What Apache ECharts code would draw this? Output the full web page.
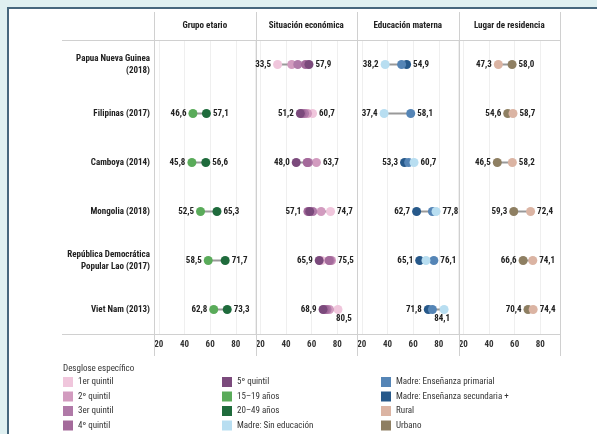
<!DOCTYPE html>
<html><head><meta charset="utf-8">
<script src="https://cdn.jsdelivr.net/npm/echarts@6/dist/echarts.min.js"></script>
<style>html,body{margin:0;padding:0;background:#dff0f1;}#c{width:597px;height:434px;}</style>
</head><body><div id="c"></div><script>
const countries = ['Papua Nueva Guinea\n(2018)','Filipinas (2017)','Camboya (2014)','Mongolia (2018)','República Democrática\nPopular Lao (2017)','Viet Nam (2013)'];
const panelTitles = ['Grupo etario','Situación económica','Educación materna','Lugar de residencia'];
const tickValues = [20,40,60,80];
// Grupo etario
const age1519 = [null,46.6,45.8,52.5,58.5,62.8];
const age2049 = [null,57.1,56.6,65.3,71.7,73.3];
// Situación económica
const q1 = [33.5,60.7,57.0,74.7,67.8,80.5];
const q2 = [44.5,56.8,63.7,67.4,75.5,73.9];
const q3 = [49.2,54.5,57.5,60.9,74.5,72.0];
const q4 = [55.2,52.5,56.5,57.1,73.5,70.5];
const q5 = [57.9,51.2,48.0,58.5,65.9,68.9];
// Educación materna
const eduNone = [38.2,37.4,60.7,77.8,70.0,84.1];
const eduPrim = [51.0,58.1,56.5,75.0,76.1,75.0];
const eduSec  = [54.9,null,53.3,62.7,65.1,71.8];
// Lugar de residencia
const rural = [47.3,58.7,58.2,72.4,74.1,74.4];
const urban = [58.0,54.6,46.5,59.3,66.6,70.4];

const FONT = "'Roboto Condensed','Open Sans Condensed',sans-serif";
const panels = [
  [{name:'15–19 años',data:age1519,color:'#5aab5a'},{name:'20–49 años',data:age2049,color:'#1f6b3c'}],
  [{name:'1er quintil',data:q1,color:'#f0c6dc'},{name:'2º quintil',data:q2,color:'#d29bbf'},{name:'3er quintil',data:q3,color:'#b07aa8'},{name:'4º quintil',data:q4,color:'#a46a9b'},{name:'5º quintil',data:q5,color:'#7b4a7c'}],
  [{name:'Madre: Enseñanza secundaria +',data:eduSec,color:'#27598a'},{name:'Madre: Enseñanza primarial',data:eduPrim,color:'#5585b6'},{name:'Madre: Sin educación',data:eduNone,color:'#b8def1'}],
  [{name:'Urbano',data:urban,color:'#8e7f62'},{name:'Rural',data:rural,color:'#dbb4a3'}]
];
const legendCols = [
  ['1er quintil','2º quintil','3er quintil','4º quintil'],
  ['5º quintil','15–19 años','20–49 años','Madre: Sin educación'],
  ['Madre: Enseñanza primarial','Madre: Enseñanza secundaria +','Rural','Urbano']
];
const belowLabels = {'1-5':[6,0],'2-5':[-2,0]};

const PL = 154, PW = 101.5, TOP = 40, BOT = 334;
const fmt = v => v.toFixed(1).replace('.', ',');
const grids=[], xAxes=[], yAxes=[], series=[];
panels.forEach((ser,p)=>{
  grids.push({left:PL+p*PW, top:TOP, width:PW, height:BOT-TOP});
  xAxes.push({type:'value', gridIndex:p, min:16.3, max:95.3, splitNumber:4,
    axisLine:{show:false}, axisTick:{show:false},
    axisLabel:{fontSize:9, color:'#333', margin:6, fontFamily:FONT, fontWeight:'bold',
      formatter:v=>tickValues.includes(v)?String(v):''},
    splitLine:{lineStyle:{color:'#efefef'}}});
  yAxes.push({type:'category', gridIndex:p, data:countries, inverse:true,
    axisLine:{show:false}, axisTick:{show:false}, splitLine:{show:false},
    axisLabel:{show:p===0, fontSize:9, fontWeight:'bold', color:'#222', margin:4, lineHeight:12, fontFamily:FONT, align:'right'}});
  const conn=[];
  countries.forEach((c,i)=>{
    const vals=ser.map(s=>s.data[i]).filter(v=>v!=null);
    if(vals.length) conn.push([Math.min(...vals),Math.max(...vals),i]);
  });
  series.push({type:'custom', xAxisIndex:p, yAxisIndex:p, z:2, silent:true, data:conn,
    renderItem:(params,api)=>{
      const a=api.coord([api.value(0),api.value(2)]), b=api.coord([api.value(1),api.value(2)]);
      return {type:'line', shape:{x1:a[0],y1:a[1],x2:b[0],y2:b[1]}, style:{stroke:'#999',lineWidth:2}};
    }});
  const minOwner=[], maxOwner=[];
  countries.forEach((c,i)=>{
    let mn=null,mx=null;
    ser.forEach((s,k)=>{const v=s.data[i]; if(v==null)return;
      if(mn==null||v<ser[mn].data[i])mn=k; if(mx==null||v>ser[mx].data[i])mx=k;});
    minOwner.push(mn); maxOwner.push(mx);
  });
  ser.forEach((s,k)=>{
    const data=[];
    s.data.forEach((v,i)=>{
      if(v==null)return;
      const item={value:[v,i]};
      const lab={show:true, fontSize:9, fontWeight:'bold', color:'#222', fontFamily:FONT, formatter:()=>fmt(v)};
      if(minOwner[i]===k){ item.label=Object.assign(lab,{position:'left',distance:2}); }
      else if(maxOwner[i]===k){
        const key=p+'-'+i;
        if(belowLabels[key]) item.label=Object.assign(lab,{position:'bottom',distance:0,offset:belowLabels[key]});
        else item.label=Object.assign(lab,{position:'right',distance:2});
      }
      data.push(item);
    });
    series.push({type:'scatter', name:s.name, xAxisIndex:p, yAxisIndex:p, z:3, symbolSize:9,
      itemStyle:{color:s.color, opacity:1}, label:{show:false}, data:data});
  });
});

const graphic=[
  {type:'rect', z:-10, shape:{x:8,y:8,width:700,height:500}, style:{fill:'#fff',stroke:'#46677d',lineWidth:2}},
  {type:'line', z:1, shape:{x1:62,y1:40.5,x2:560,y2:40.5}, style:{stroke:'#d0d0d0',lineWidth:1}},
  {type:'line', z:1, shape:{x1:62,y1:334.5,x2:560,y2:334.5}, style:{stroke:'#d0d0d0',lineWidth:1}},
  {type:'text', z:1, x:63, y:369, style:{text:'Desglose específico', fontSize:9, fill:'#333', fontFamily:FONT, verticalAlign:'middle'}}
];
for(let p=0;p<=4;p++){
  const x=Math.round(PL+p*PW)+0.5;
  graphic.push({type:'line', z:1, shape:{x1:x,y1:12,x2:x,y2:356}, style:{stroke:'#d0d0d0',lineWidth:1}});
}
panelTitles.forEach((t,p)=>{
  graphic.push({type:'text', z:1, x:PL+p*PW+PW/2, y:26, style:{text:t, fontSize:9, fontWeight:'bold', fill:'#222', fontFamily:FONT, align:'center', verticalAlign:'middle'}});
});
const legends=legendCols.map((names,c)=>({
  data:names, left:[63,222,381][c], top:377, padding:0, orient:'vertical', icon:'rect', itemWidth:10, itemHeight:10, itemGap:4.5,
  selectedMode:false, textStyle:{fontSize:9, color:'#333', fontFamily:FONT}
}));

const chart=echarts.init(document.getElementById('c'),null,{renderer:'canvas'});
chart.setOption({animation:false, backgroundColor:'#dff0f1', grid:grids, xAxis:xAxes, yAxis:yAxes, series:series, graphic:graphic, legend:legends});
</script></body></html>
